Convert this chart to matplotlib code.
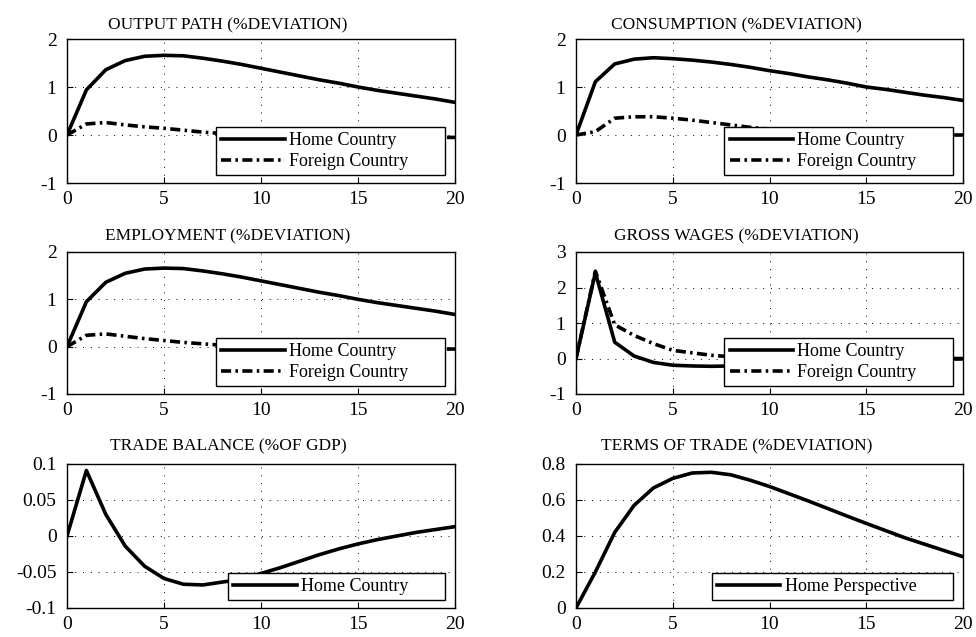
import numpy as np
import matplotlib
matplotlib.use("Agg")
import matplotlib.pyplot as plt

plt.rcParams['font.family'] = ['Liberation Serif', 'DejaVu Serif']

periods = np.arange(0, 21)

# impulse responses
output_home = [0, 0.94, 1.36, 1.55, 1.64, 1.66, 1.65, 1.60, 1.54, 1.47, 1.39,
               1.31, 1.23, 1.15, 1.08, 1.00, 0.93, 0.87, 0.81, 0.75, 0.68]
output_foreign = [0, 0.23, 0.26, 0.21, 0.17, 0.14, 0.10, 0.06, 0.03, 0.01, -0.01,
                  -0.02, -0.03, -0.035, -0.04, -0.04, -0.045, -0.045, -0.05, -0.05, -0.05]

cons_home = [0, 1.11, 1.48, 1.58, 1.61, 1.59, 1.56, 1.52, 1.47, 1.41, 1.34,
             1.28, 1.21, 1.15, 1.08, 1.00, 0.95, 0.89, 0.83, 0.78, 0.72]
cons_foreign = [0, 0.07, 0.35, 0.38, 0.38, 0.35, 0.31, 0.26, 0.21, 0.16, 0.12,
                0.09, 0.07, 0.05, 0.04, 0.03, 0.02, 0.01, 0.01, 0.0, 0.0]

empl_home = [0, 0.95, 1.36, 1.55, 1.64, 1.66, 1.65, 1.60, 1.54, 1.47, 1.39,
             1.31, 1.23, 1.15, 1.08, 1.00, 0.93, 0.87, 0.81, 0.75, 0.68]
empl_foreign = [0, 0.24, 0.27, 0.22, 0.17, 0.13, 0.09, 0.06, 0.03, 0.01, -0.01,
                -0.02, -0.03, -0.035, -0.04, -0.04, -0.045, -0.045, -0.05, -0.05, -0.05]

wage_home = [0, 2.42, 0.46, 0.07, -0.11, -0.19, -0.21, -0.22, -0.21, -0.19, -0.17,
             -0.15, -0.13, -0.11, -0.09, -0.07, -0.06, -0.04, -0.03, -0.02, -0.01]
wage_foreign = [0, 2.46, 0.95, 0.65, 0.42, 0.23, 0.16, 0.09, 0.05, 0.02, 0.0,
                0.0, 0.0, 0.0, 0.0, 0.0, 0.0, 0.0, 0.0, 0.0, 0.0]

tb_home = [0, 0.091, 0.030, -0.014, -0.042, -0.059, -0.067, -0.068, -0.064, -0.060, -0.052,
           -0.044, -0.035, -0.026, -0.018, -0.011, -0.005, 0.0, 0.005, 0.009, 0.013]

tot_home = [0, 0.20, 0.42, 0.57, 0.667, 0.72, 0.75, 0.754, 0.74, 0.71, 0.675,
            0.635, 0.595, 0.553, 0.511, 0.47, 0.43, 0.39, 0.355, 0.32, 0.285]

titles = ["OUTPUT PATH (%DEVIATION)", "CONSUMPTION (%DEVIATION)",
          "EMPLOYMENT (%DEVIATION)", "GROSS WAGES (%DEVIATION)",
          "TRADE BALANCE (%OF GDP)", "TERMS OF TRADE (%DEVIATION)"]

yticks_list = [[-1, 0, 1, 2], [-1, 0, 1, 2], [-1, 0, 1, 2], [-1, 0, 1, 2, 3],
               [-0.1, -0.05, 0, 0.05, 0.1], [0, 0.2, 0.4, 0.6, 0.8]]
ytick_labels = [["-1", "0", "1", "2"], ["-1", "0", "1", "2"], ["-1", "0", "1", "2"],
                ["-1", "0", "1", "2", "3"], ["-0.1", "-0.05", "0", "0.05", "0.1"],
                ["0", "0.2", "0.4", "0.6", "0.8"]]
xticks = [0, 5, 10, 15, 20]

series = [
    [(output_home, "Home Country"), (output_foreign, "Foreign Country")],
    [(cons_home, "Home Country"), (cons_foreign, "Foreign Country")],
    [(empl_home, "Home Country"), (empl_foreign, "Foreign Country")],
    [(wage_home, "Home Country"), (wage_foreign, "Foreign Country")],
    [(tb_home, "Home Country")],
    [(tot_home, "Home Perspective")],
]

fig = plt.figure(figsize=(9.76, 6.37), dpi=100)

lefts = [67 / 976, 576 / 976]
widths = [388 / 976, 387 / 976]
rows = [(39, 183), (252, 394), (464, 608)]
title_pads = [7, 8.5, 9.5]

styles = ['-', (0, (2.8, 1.2, 0.7, 1.2))]
pad_right = "\u00a0" * 7  # matlab legends leave room right of the text

for i in range(6):
    r, c = divmod(i, 2)
    top, bot = rows[r]
    ax = fig.add_axes([lefts[c], 1 - bot / 637, widths[c], (bot - top) / 637])
    for k, (vals, lab) in enumerate(series[i]):
        ax.plot(periods, vals, color='black', lw=2.6, linestyle=styles[k],
                label=lab + pad_right)
    yt = yticks_list[i]
    ax.set_xlim(0, 20)
    ax.set_ylim(yt[0], yt[-1])
    ax.set_xticks(xticks)
    ax.set_xticklabels([str(t) for t in xticks])
    ax.set_yticks(yt)
    ax.set_yticklabels(ytick_labels[i])
    ax.tick_params(direction='in', length=4, labelsize=14, width=0.8)
    ax.tick_params(axis='x', pad=5.5)
    ax.tick_params(axis='y', pad=7.5)
    ax.grid(True, color='black', linestyle=(0, (1, 7)), linewidth=0.7)
    for s in ax.spines.values():
        s.set_linewidth(1.0)
    ax.set_title(titles[i], x=0.415, fontsize=12.5, pad=title_pads[r])
    leg = ax.legend(loc='lower right', bbox_to_anchor=(1 - 10 / 388, 8 / 144),
                    borderaxespad=0, fontsize=13, handlelength=3.5, handletextpad=0.25,
                    labelspacing=0.2, borderpad=0.28, fancybox=False, framealpha=1)
    leg.get_frame().set_edgecolor('black')
    leg.get_frame().set_linewidth(1.0)

fig.savefig("out.png", dpi=100)
